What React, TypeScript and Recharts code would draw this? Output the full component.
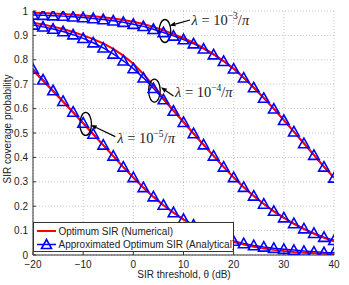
import React from "react";
import {
  LineChart,
  Line,
  XAxis,
  YAxis,
  CartesianGrid,
  Legend,
  ReferenceDot,
  ReferenceLine,
} from "recharts";

// SIR threshold (dB), one marker every 2 dB
const thresholdDb = [
  -20, -18, -16, -14, -12, -10, -8, -6, -4, -2, 0, 2, 4, 6, 8, 10, 12, 14, 16,
  18, 20, 22, 24, 26, 28, 30, 32, 34, 36, 38, 40,
];

// lambda = 1e-3 / pi
const numericalHigh = [
  0.993, 0.992, 0.99, 0.988, 0.985, 0.982, 0.978, 0.974, 0.969, 0.963, 0.956,
  0.947, 0.935, 0.921, 0.905, 0.889, 0.87, 0.848, 0.823, 0.795, 0.764, 0.727,
  0.687, 0.644, 0.6, 0.553, 0.506, 0.458, 0.41, 0.362, 0.317,
];
const analyticalHigh = [
  0.984, 0.983, 0.981, 0.979, 0.976, 0.973, 0.969, 0.965, 0.96, 0.954, 0.946,
  0.937, 0.925, 0.912, 0.898, 0.883, 0.866, 0.845, 0.821, 0.794, 0.763, 0.726,
  0.686, 0.643, 0.599, 0.552, 0.505, 0.457, 0.409, 0.361, 0.316,
];

// lambda = 1e-4 / pi
const numericalMid = [
  0.952, 0.945, 0.936, 0.926, 0.914, 0.9, 0.885, 0.867, 0.845, 0.817, 0.784,
  0.742, 0.694, 0.643, 0.593, 0.545, 0.498, 0.452, 0.406, 0.361, 0.318, 0.278,
  0.242, 0.209, 0.179, 0.152, 0.128, 0.106, 0.087, 0.07, 0.056,
];
const analyticalMid = [
  0.943, 0.935, 0.926, 0.916, 0.903, 0.888, 0.87, 0.849, 0.824, 0.796, 0.764,
  0.726, 0.683, 0.637, 0.59, 0.544, 0.498, 0.452, 0.406, 0.361, 0.318, 0.278,
  0.242, 0.209, 0.18, 0.153, 0.129, 0.108, 0.089, 0.073, 0.06,
];

// lambda = 1e-5 / pi
const numericalLow = [
  0.757, 0.714, 0.671, 0.628, 0.584, 0.54, 0.495, 0.45, 0.405, 0.36, 0.317,
  0.276, 0.238, 0.204, 0.173, 0.145, 0.121, 0.1, 0.082, 0.066, 0.053, 0.043,
  0.034, 0.027, 0.021, 0.016, 0.012, 0.009, 0.007, 0.005, 0.004,
];
const analyticalLow = [
  0.762, 0.718, 0.674, 0.63, 0.586, 0.541, 0.496, 0.451, 0.406, 0.361, 0.318,
  0.277, 0.239, 0.205, 0.174, 0.147, 0.123, 0.103, 0.085, 0.07, 0.057, 0.047,
  0.039, 0.033, 0.028, 0.024, 0.02, 0.016, 0.013, 0.01, 0.009,
];

const xTicks = [-20, -10, 0, 10, 20, 30, 40];
const yTicks = [0, 0.1, 0.2, 0.3, 0.4, 0.5, 0.6, 0.7, 0.8, 0.9, 1];

const legendLabels = [
  "Optimum SIR (Numerical)",
  "Approximated Optimum SIR (Analytical)",
];

// density callouts: exponent, ellipse centre, arrow, text anchor (data coords)
const callouts = [
  { exp: "\u22123", ex: 6.3, ey: 0.918, from: [11.3, 0.963], to: [7.2, 0.94], tx: 11.6, ty: 0.943 },
  { exp: "\u22124", ex: 4.2, ey: 0.674, from: [8.0, 0.652], to: [5.5, 0.687], tx: 8.3, ty: 0.646 },
  { exp: "\u22125", ex: -9.5, ey: 0.537, from: [-3.6, 0.485], to: [-8.5, 0.533], tx: -3.2, ty: 0.458 },
];

const rows = thresholdDb.map((x, i) => ({
  x,
  numHigh: numericalHigh[i],
  appHigh: analyticalHigh[i],
  numMid: numericalMid[i],
  appMid: analyticalMid[i],
  numLow: numericalLow[i],
  appLow: analyticalLow[i],
}));

const SANS = "'Liberation Sans', Arial, Helvetica, sans-serif";
const SERIF = "'Liberation Serif', 'DejaVu Serif', 'Times New Roman', serif";
const RED = "#ff0000";
const BLUE = "#0000ff";
const AXIS = "#333";

const Triangle = (props: any) => {
  const { cx, cy, index } = props;
  if (cx == null || cy == null) return <g key={index} />;
  return (
    <path
      key={index}
      d={`M${cx},${cy - 5.3} L${cx + 5.3},${cy + 4.2} L${cx - 5.3},${cy + 4.2} Z`}
      fill="none"
      stroke={BLUE}
      strokeWidth={1.6}
    />
  );
};

const Arrow = (props: any) => {
  const { x1, y1, x2, y2 } = props;
  const ang = Math.atan2(y2 - y1, x2 - x1);
  const len = 6;
  const half = 2.3;
  const bx = x2 - len * Math.cos(ang);
  const by = y2 - len * Math.sin(ang);
  const px = -Math.sin(ang) * half;
  const py = Math.cos(ang) * half;
  return (
    <g>
      <line x1={x1} y1={y1} x2={bx} y2={by} stroke="#000" strokeWidth={1.2} />
      <path
        d={`M${x2},${y2} L${bx + px},${by + py} L${bx - px},${by - py} Z`}
        fill="#000"
      />
    </g>
  );
};

const Ellipse = (props: any) => (
  <ellipse
    cx={props.cx}
    cy={props.cy}
    rx={5.8}
    ry={11.5}
    fill="none"
    stroke="#000"
    strokeWidth={1.3}
  />
);

const calloutText = (exp: string) => (props: any) => (
  <text
    x={props.cx}
    y={props.cy}
    fontFamily={SERIF}
    fontSize={14.5}
    fill="#222"
  >
    <tspan fontStyle="italic">λ</tspan>
    <tspan> = 10</tspan>
    <tspan dy={-6} fontSize={9.5}>
      {exp}
    </tspan>
    <tspan dy={6}>/</tspan>
    <tspan fontStyle="italic">π</tspan>
  </text>
);

const LegendBox = () => (
  <svg width={201} height={30} style={{ display: "block" }}>
    <rect x={0.5} y={0.5} width={200} height={29} fill="#fff" stroke={AXIS} />
    <line x1={4} y1={9} x2={23} y2={9} stroke={RED} strokeWidth={2} />
    <text x={25.5} y={12.5} fontFamily={SANS} fontSize={10} fill="#222">
      {legendLabels[0]}
    </text>
    <line x1={4} y1={22.5} x2={23} y2={22.5} stroke={BLUE} strokeWidth={1.5} />
    <path d="M13.5,17.5 L18.5,26.5 L8.5,26.5 Z" fill="none" stroke={BLUE} strokeWidth={1.6} />
    <text x={25.5} y={26} fontFamily={SANS} fontSize={10} fill="#222">
      {legendLabels[1]}
    </text>
  </svg>
);

const tickStyle = { fontSize: 10, fill: "#222", fontFamily: SANS };

export default function App() {
  return (
    <div style={{ position: "absolute", left: 0, top: 0, background: "#fff" }}>
      <LineChart
        width={349}
        height={285}
        data={rows}
        margin={{ top: 11, right: 15, bottom: 0, left: 0 }}
      >
        <CartesianGrid stroke="#c4c4c4" strokeDasharray="1 2" />
        <XAxis
          dataKey="x"
          type="number"
          domain={[-20, 40]}
          ticks={xTicks}
          tickFormatter={(v: number) => (v < 0 ? `\u2212${-v}` : `${v}`)}
          height={30}
          tickSize={-3}
          tickMargin={9}
          tick={tickStyle}
          stroke={AXIS}
          allowDataOverflow
          label={(p: any) => (
            <text x={184} y={278} textAnchor="middle" fontFamily={SANS} fontSize={10} fill="#222">
              SIR threshold, θ (dB)
            </text>
          )}
        />
        <XAxis
          xAxisId="top"
          orientation="top"
          type="number"
          domain={[-20, 40]}
          ticks={xTicks}
          height={0}
          tickSize={-3}
          tick={false}
          stroke={AXIS}
        />
        <YAxis
          type="number"
          domain={[0, 1]}
          ticks={yTicks}
          width={33}
          tickSize={-3}
          tickMargin={8}
          tick={tickStyle}
          stroke={AXIS}
          allowDataOverflow
          label={(p: any) => (
            <text
              x={7}
              y={129}
              transform="rotate(-90 7 129)"
              textAnchor="middle"
              dominantBaseline="central"
              fontFamily={SANS}
              fontSize={10}
              fill="#222"
            >
              SIR coverage probability
            </text>
          )}
        />
        <YAxis
          yAxisId="right"
          orientation="right"
          type="number"
          domain={[0, 1]}
          ticks={yTicks}
          width={0}
          tickSize={-3}
          tick={false}
          stroke={AXIS}
        />

        {["appHigh", "appMid", "appLow"].map((k) => (
          <Line
            key={k}
            dataKey={k}
            stroke={BLUE}
            strokeWidth={1.5}
            dot={Triangle}
            activeDot={false}
            isAnimationActive={false}
          />
        ))}
        {["numHigh", "numMid", "numLow"].map((k) => (
          <Line
            key={k}
            dataKey={k}
            stroke={RED}
            strokeWidth={2}
            dot={false}
            activeDot={false}
            isAnimationActive={false}
          />
        ))}

        {callouts.map((c) => (
          <ReferenceDot key={`e${c.exp}`} x={c.ex} y={c.ey} shape={Ellipse} />
        ))}
        {callouts.map((c) => (
          <ReferenceLine
            key={`a${c.exp}`}
            segment={[
              { x: c.from[0], y: c.from[1] },
              { x: c.to[0], y: c.to[1] },
            ]}
            shape={Arrow}
          />
        ))}
        {callouts.map((c) => (
          <ReferenceDot key={`t${c.exp}`} x={c.tx} y={c.ty} shape={calloutText(c.exp)} />
        ))}

        <Legend
          layout="vertical"
          align="center"
          verticalAlign="middle"
          content={() => <LegendBox />}
          wrapperStyle={{ left: 33, top: 222, width: 201, height: 30 }}
        />
      </LineChart>
    </div>
  );
}
